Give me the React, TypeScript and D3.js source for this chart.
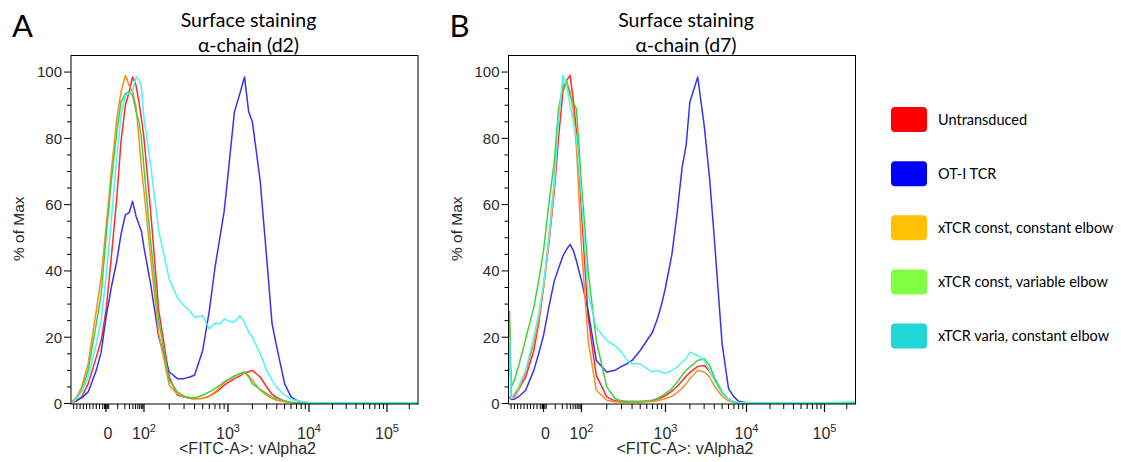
import React from "react";
import * as d3 from "d3";

// Shared fluorescence bins (FITC-A intensity)
const fluorescence = [-105, -100, -90, -75, -55, -30, -15, 0, 4, 9, 14, 21, 29, 39, 52, 66, 81, 100, 120, 150, 200, 250, 300, 350, 400, 500, 600, 700, 800, 900, 1000, 1200, 1400, 1600, 1800, 2000, 2500, 3000, 3500, 4000, 5000, 6000, 7000, 8000, 10000, 15000, 20000, 50000, 100000, 262144];

// Panel A (d2), % of Max
const d2Untransduced = [0.3, 0.4, 0.8, 2, 6, 14, 19, 28, 44, 62, 79, 90, 94, 98.5, 96, 91, 86, 80, 58, 28, 8, 2.5, 2, 1.6, 1.4, 1.6, 2.2, 3.2, 4.3, 5.5, 6.3, 7.5, 8.3, 9.3, 9.6, 10, 8, 5, 2.8, 1.8, 0.7, 0.3, 0.2, 0.1, 0, 0, 0, 0, 0, 0];
const d2OT1 = [0.5, 0.6, 1, 1.7, 3.5, 10, 15.5, 26, 35, 43, 51, 57, 57.5, 61, 56.5, 54, 52, 47, 36, 20, 9.5, 7.5, 7.5, 8, 8.5, 16, 28, 41, 50, 58, 69, 88, 93.5, 98.5, 88, 85, 67, 44, 24, 17, 6, 2, 1, 0.5, 0.2, 0, 0, 0, 0, 0];
const d2ConstConst = [0.8, 1, 2, 5, 12, 28, 38, 53, 70, 86, 94, 99, 96, 94, 89.5, 80, 71, 64, 44, 21, 5.5, 2.8, 2, 1.6, 1.4, 1.5, 2.2, 3.5, 4.8, 6.2, 7, 8.2, 9, 9.2, 8.5, 7, 4, 2.5, 1.5, 1, 0.5, 0.3, 0.2, 0.1, 0, 0, 0, 0, 0, 0];
const d2ConstVar = [0.5, 0.6, 1.5, 4, 10, 24, 33, 50, 67, 82, 91, 93.5, 94, 93, 88, 85, 80, 71, 49, 25, 7, 3.5, 2.2, 1.8, 1.7, 2.5, 3.5, 4.5, 5.5, 6.5, 7.2, 8.3, 9, 9.5, 8, 6, 4.3, 3, 2, 1.5, 0.8, 0.4, 0.2, 0.1, 0, 0, 0, 0, 0, 0];
const d2VarConst = [0.5, 0.6, 1.5, 3.5, 8, 18, 25, 38, 55, 74, 87, 93, 93.5, 94.5, 98.6, 97.5, 95.5, 86, 72, 52, 37.5, 32, 29.5, 28, 26, 26.5, 22.5, 24.3, 24, 25.5, 25, 24.6, 26.5, 24.5, 21.5, 20, 15, 10, 7, 4.8, 2.5, 1.3, 0.9, 0.6, 0.3, 0.2, 0.2, 0.2, 0.2, 0.2];

// Panel B (d7), % of Max
const d7Untransduced = [20, 2, 2.5, 4.5, 8, 16, 24, 35, 48, 64, 80, 94, 97.5, 99, 91, 82, 71, 58, 26, 8.5, 2, 0.8, 0.6, 0.6, 0.6, 0.6, 0.7, 0.9, 1.3, 1.8, 2.4, 3.7, 5.2, 6.8, 8.3, 9.3, 11.2, 11.5, 9.8, 7.3, 3.3, 1.3, 0.5, 0.2, 0.1, 0, 0, 0, 0, 0];
const d7OT1 = [2, 1.2, 1.3, 2.2, 4, 10, 15, 20.5, 29, 37, 40.7, 44.5, 46.5, 48, 46, 43, 40, 37, 28, 13, 9.5, 10, 11.2, 12, 13, 16, 19, 21.5, 25.5, 30, 35, 45, 58, 71, 78, 91, 98.5, 84, 68, 50, 18, 4.5, 2, 0.7, 0.2, 0.1, 0.1, 0.1, 0.1, 0.1];
const d7ConstConst = [24, 1.5, 2, 4.5, 9.5, 18, 25, 35, 50, 67, 89, 95, 97.5, 94, 88, 77, 63, 47, 19, 4, 1, 0.5, 0.4, 0.4, 0.4, 0.4, 0.5, 0.6, 0.8, 1.1, 1.5, 2.2, 3.3, 4.6, 6, 7.5, 10, 9.5, 8, 5.3, 2.2, 0.8, 0.3, 0.1, 0, 0, 0, 0, 0, 0];
const d7ConstVar = [28, 5, 7, 12, 19.5, 29, 37, 46, 60, 73, 88, 96, 97, 93, 90.5, 89, 78, 66, 40, 19, 5, 1.5, 0.8, 0.6, 0.6, 0.6, 0.8, 1, 1.5, 2.2, 3, 4.5, 6.5, 8.5, 10, 11, 13, 13.5, 11.5, 8, 3.5, 1.2, 0.5, 0.2, 0.1, 0, 0, 0, 0, 0];
const d7VarConst = [20, 1.5, 3, 5.5, 10, 20, 27, 36, 49, 66, 85, 99, 96, 90, 85, 80, 72, 62, 33, 23, 19, 17.5, 15.5, 13, 12, 12, 10.5, 9.5, 10, 9.5, 9, 10, 11, 12.5, 13.5, 15.5, 14.5, 13, 10, 7, 3, 1.2, 0.6, 0.4, 0.2, 0.2, 0.2, 0.2, 0.2, 0.5];

const seriesNames = ["Untransduced", "OT-I TCR", "xTCR const, constant elbow", "xTCR const, variable elbow", "xTCR varia, constant elbow"];
const lineColors = ["#ff2a2a", "#3434f0", "#ff8a1e", "#3ed13e", "#4ff4f4"];
const swatchColors = ["#ff0000", "#0000ff", "#ffc000", "#80ff40", "#20d6d6"];

const xAnchors = [-105, 0, 100, 1000, 10000, 100000, 262144];
const xMajorTicks = [0, 100, 1000, 10000, 100000];
const xTickLabels = ["0", "2", "3", "4", "5"];
const xMinorTicks = [-100, -90, -80, -70, -60, -50, -40, -30, -20, -10, -4, -3, -2, -1, 1, 2, 10, 20, 30, 40, 50, 60, 70, 80, 90, 200, 300, 400, 500, 600, 700, 800, 900, 2000, 3000, 4000, 5000, 6000, 7000, 8000, 9000, 20000, 30000, 40000, 50000, 60000, 70000, 80000, 90000, 200000];
const yMajorTicks = [0, 20, 40, 60, 80, 100];
const yMinorTicks = [5, 10, 15, 25, 30, 35, 45, 50, 55, 65, 70, 75, 85, 90, 95];

const panels = [
  { id: "d2", letter: "A", subtitle: "α-chain (d2)", series: [d2Untransduced, d2OT1, d2ConstConst, d2ConstVar, d2VarConst] },
  { id: "d7", letter: "B", subtitle: "α-chain (d7)", series: [d7Untransduced, d7OT1, d7ConstConst, d7ConstVar, d7VarConst] },
];

const PANEL_LEFT = [71, 508.5];
const TOP = 55.5;
const PW = 347;
const PH = 348.5;

const W = 9;
const toDisplay = (v: number) => (v >= 0 ? Math.asinh(v / W) : v / W);
const xLin = d3.scaleLinear().domain(xAnchors.map(toDisplay)).range([1, 35, 73, 157, 238, 316, 347]);
const x = (v: number) => xLin(toDisplay(v));
const y = d3.scaleLinear().domain([0, 105]).range([348, 0]);

const axisFont = "'Liberation Sans', Arial, sans-serif";
const titleFont = "Lato, 'Open Sans', sans-serif";
const axisColor = "#2b2b2b";

function Panel({ p, idx }: { p: typeof panels[number]; idx: number }) {
  const left = PANEL_LEFT[idx];
  const line = d3
    .line<number>()
    .x((_, i) => x(fluorescence[i]))
    .y((d) => y(d));
  const cx = PW / 2 + 1;
  return (
    <g transform={`translate(${left},${TOP})`}>
      <defs>
        <clipPath id={`clip-${p.id}`}>
          <rect x={0} y={-2} width={PW} height={PH + 2} />
        </clipPath>
      </defs>
      <text x={-59} y={-18.5} fontFamily={titleFont} fontSize={31} fill="#000">{p.letter}</text>
      <text x={cx + 3} y={-28.5} textAnchor="middle" fontFamily={titleFont} fontSize={19.5} fill="#000">Surface staining</text>
      <text x={cx + 3} y={-4} textAnchor="middle" fontFamily={titleFont} fontSize={19.5} fill="#000">{p.subtitle}</text>
      <g clipPath={`url(#clip-${p.id})`}>
        {p.series.map((s, i) => (
          <path key={i} d={line(s) || ""} fill="none" stroke={lineColors[i]} strokeWidth={1.5} strokeLinejoin="round" />
        ))}
      </g>
      <rect x={0} y={0} width={PW} height={PH} fill="none" stroke="#000" strokeWidth={1} />
      {yMajorTicks.map((t) => (
        <g key={`ym${t}`}>
          <line x1={-7} x2={0} y1={y(t)} y2={y(t)} stroke="#000" strokeWidth={1} />
          <text x={-9} y={y(t)} dy="0.36em" textAnchor="end" fontFamily={axisFont} fontSize={15} fill={axisColor}>{t}</text>
        </g>
      ))}
      {yMinorTicks.map((t) => (
        <line key={`yn${t}`} x1={-4} x2={0} y1={y(t)} y2={y(t)} stroke="#000" strokeWidth={1} />
      ))}
      <text transform={`translate(${-47},${PH / 2 - 1}) rotate(-90)`} textAnchor="middle" fontFamily={axisFont} fontSize={15.5} fill={axisColor}>% of Max</text>
      {xMajorTicks.map((t, i) => (
        <g key={`xm${t}`}>
          <line x1={x(t)} x2={x(t)} y1={PH} y2={PH + 8} stroke="#000" strokeWidth={1.2} />
          <text x={x(t) + (i === 0 ? 2 : 0)} y={PH + 35} textAnchor="middle" fontFamily={axisFont} fontSize={16} fill={axisColor}>
            {i === 0 ? "0" : "10"}
            {i === 0 ? null : <tspan dy={-7} fontSize={11}>{xTickLabels[i]}</tspan>}
          </text>
        </g>
      ))}
      {xMinorTicks.map((t) => (
        <line key={`xn${t}`} x1={x(t)} x2={x(t)} y1={PH} y2={PH + 5} stroke="#000" strokeWidth={1} />
      ))}
      <text x={cx + 2} y={PH + 50} textAnchor="middle" fontFamily={axisFont} fontSize={16} fill={axisColor}>{"<FITC-A>: vAlpha2"}</text>
    </g>
  );
}

export default function App() {
  return (
    <svg width={1121} height={462} style={{ position: "absolute", left: 0, top: 0, background: "#fff" }}>
      <rect x={0} y={0} width={1121} height={462} fill="#fff" />
      {panels.map((p, i) => (
        <Panel key={p.id} p={p} idx={i} />
      ))}
      <g transform="translate(891,0)">
        {seriesNames.map((name, i) => {
          const cy = d3.scaleLinear().domain([0, 4]).range([119.5, 336])(i);
          return (
            <g key={name}>
              <rect x={0} y={cy - 12.5} width={36} height={25} rx={4} fill={swatchColors[i]} />
              <text x={47} y={cy + 5} fontFamily={titleFont} fontSize={14.5} fill="#000">{name}</text>
            </g>
          );
        })}
      </g>
    </svg>
  );
}
